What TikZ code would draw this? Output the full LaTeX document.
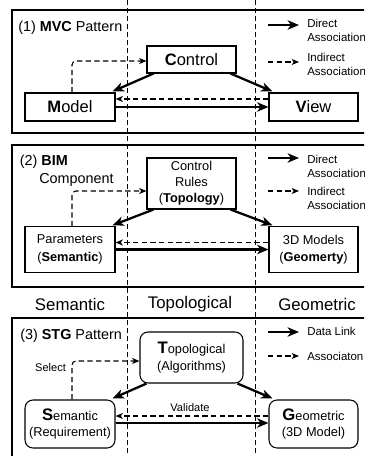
\documentclass[tikz,border=0pt]{standalone}
\usepackage{fontspec}
\setmainfont{Liberation Sans}
\usetikzlibrary{arrows.meta,calc}
% font sizes used in the figure
\newcommand\fsHead{\fontsize{12.6}{14}\selectfont}
\newcommand\fsTitle{\fontsize{10.8}{13}\selectfont}
\newcommand\fsMvc{\fontsize{12.4}{14}\selectfont}
\newcommand\fsBox{\fontsize{9.6}{12}\selectfont}
\newcommand\fsStg{\fontsize{9.6}{12.3}\selectfont}
\newcommand\fsInit{\fontsize{12.5}{12.3}\selectfont\bfseries}
\newcommand\fsLeg{\fontsize{8.6}{10.5}\selectfont}
\newcommand\fsLab{\fontsize{8.3}{10}\selectfont}
\begin{document}
\begin{tikzpicture}[x=0.75pt,y=-0.75pt,
  box/.style={draw, line width=0.8pt, fill=white, inner sep=0pt, align=center},
  rbox/.style={box, rounded corners=6pt},
  direct/.style={line width=1.7pt, -{Stealth[length=8.5pt,width=7pt,inset=2.5pt]}},
  indirect/.style={line width=0.85pt, dash pattern=on 4pt off 2.5pt,
    -{Stealth[length=5.5pt,width=4.5pt,inset=1.5pt]}, rounded corners=3pt},
  divider/.style={line width=0.75pt, dash pattern=on 3.5pt off 2.5pt},
  legtext/.style={font=\fsLeg, align=left, anchor=west, inner sep=0pt},
  lab/.style={inner sep=0pt, anchor=west},
]
\useasboundingbox (0,0) rectangle (364,456);
\clip (0,0) rectangle (364,456);

% panel frames
\draw[line width=0.8pt] (12,10) rectangle (380,133);
\draw[line width=1.5pt] (12,145) rectangle (380,287);
\draw[line width=1.5pt] (12,318) rectangle (380,470);

% column dividers
\draw[divider] (127.5,0) -- (127.5,456);
\draw[divider] (255,0) -- (255,456);

% column headings
\node[font=\fsHead, inner sep=0pt] (hsem) at (70,304) {Semantic};
\node[font=\fsHead, inner sep=0pt] (htop) at (190,304) {Topological};
\node[font=\fsHead, inner sep=0pt] (hgeo) at (317,304) {Geometric};

% ---------- (1) MVC pattern ----------
\node[lab, font=\fsTitle] (t1) at (18,28) {(1) \textbf{MVC} Pattern};
\node[box, font=\fsMvc, minimum width=66.75pt, minimum height=20.25pt] (ctl) at (191.5,59.5) {\textbf{C}ontrol};
\node[box, font=\fsMvc, minimum width=67.5pt, minimum height=21pt] (mdl) at (70,107) {\textbf{M}odel};
\node[box, font=\fsMvc, minimum width=66.75pt, minimum height=21pt] (view) at (313.5,107) {\textbf{V}iew};

\draw[direct] ($(ctl.south west)+(7,0)$) -- ($(mdl.north east)+(-3,-1)$);
\draw[direct] ($(ctl.south east)+(-6,0)$) -- ($(view.north west)+(4,-1)$);
\draw[direct] (mdl.east) -- (view.west);
\draw[indirect] ($(view.west)+(0,-8)$) -- ($(mdl.east)+(0,-8)$);
\draw[indirect] ($(mdl.north)+(2,0)$) |- ($(ctl.west)+(0,1.5)$);

\coordinate (l1a) at (268,25);
\coordinate (l1b) at (299,25);
\draw[direct] (l1a) -- (l1b);
\node[legtext] (l1t) at (307,30) {Direct\\Associations};
\coordinate (l2a) at (268,62);
\coordinate (l2b) at (299,62);
\draw[indirect] (l2a) -- (l2b);
\node[legtext] (l2t) at (307,64) {Indirect\\Associations};

% ---------- (2) BIM component ----------
\node[lab, font=\fsTitle] (t2a) at (19.5,162) {(2) \textbf{BIM}};
\node[lab, font=\fsTitle] (t2b) at (39,180) {Component};
\node[box, font=\fsBox, minimum width=66.75pt, minimum height=38.25pt] (rules) at (191.5,183.5) {Control\\Rules\\(\textbf{Topology})};
\node[box, font=\fsBox, minimum width=67.5pt, minimum height=34pt] (param) at (70,249.5) {Parameters\\[1pt](\textbf{Semantic})};
\node[box, font=\fsBox, minimum width=66.75pt, minimum height=34pt] (geom) at (313.5,249.5) {3D Models\\[1pt](\textbf{Geomerty})};

\draw[direct] ($(rules.south west)+(7,0)$) -- ($(param.north east)+(-3,-1)$);
\draw[direct] ($(rules.south east)+(-6,0)$) -- ($(geom.north west)+(4,-1)$);
\draw[direct] (param.east) -- (geom.west);
\draw[indirect] ($(geom.west)+(0,-7)$) -- ($(param.east)+(0,-7)$);
\draw[indirect] ($(param.north)+(2,0)$) |- ($(rules.west)+(0,7.5)$);

\coordinate (l3a) at (268,158);
\coordinate (l3b) at (299,158);
\draw[direct] (l3a) -- (l3b);
\node[legtext] (l3t) at (307,166) {Direct\\Associations};
\coordinate (l4a) at (268,191);
\coordinate (l4b) at (299,191);
\draw[indirect] (l4a) -- (l4b);
\node[legtext] (l4t) at (307,198) {Indirect\\Associations};

% ---------- (3) STG pattern ----------
\node[lab, font=\fsTitle] (t3) at (20,336) {(3) \textbf{STG} Pattern};
\node[rbox, font=\fsStg, minimum width=77.25pt, minimum height=38.25pt] (topo) at (191.5,357.5) {{\fsInit T}opological\\(Algorithms)};
\node[rbox, font=\fsStg, minimum width=67.5pt, minimum height=36pt] (sem) at (70,424) {{\fsInit S}emantic\\(Requirement)};
\node[rbox, font=\fsStg, minimum width=66.75pt, minimum height=36pt] (geo) at (313.5,424) {{\fsInit G}eometric\\(3D Model)};

\draw[direct] ($(topo.south west)+(7,0)$) -- ($(sem.north east)+(-3,-1)$);
\draw[direct] ($(topo.south east)+(-6,0)$) -- ($(geo.north west)+(4,-1)$);
\draw[direct] ($(sem.east)+(0,-1)$) -- ($(geo.west)+(0,-1)$);
\draw[indirect] ($(geo.west)+(0,-8)$) -- ($(sem.east)+(0,-8)$);
\draw[indirect] ($(sem.north)+(2,0)$) |- ($(topo.west)+(0,3.5)$);
\node[font=\fsLab, inner sep=0pt] (sel) at (50.5,368) {Select};
\node[font=\fsLab, inner sep=0pt] (val) at (190,408) {Validate};

\coordinate (l5a) at (268,332);
\coordinate (l5b) at (299,332);
\draw[direct] (l5a) -- (l5b);
\node[legtext] (l5t) at (307,331) {Data Link};
\coordinate (l6a) at (268,356);
\coordinate (l6b) at (299,356);
\draw[indirect] (l6a) -- (l6b);
\node[legtext] (l6t) at (307,356) {Associaton};
\end{tikzpicture}
\end{document}
